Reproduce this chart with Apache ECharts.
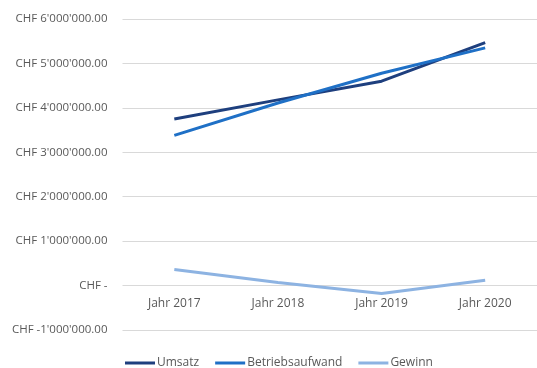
<!DOCTYPE html>
<html><head><meta charset="utf-8">
<script src="https://cdn.jsdelivr.net/npm/echarts@6/dist/echarts.min.js"></script>
<style>html,body{margin:0;padding:0;background:#fff}#c{width:537px;height:368px}</style>
</head><body><div id="c"></div>
<script>
var categories = ['Jahr 2017', 'Jahr 2018', 'Jahr 2019', 'Jahr 2020'];
var umsatz = [3750000, 4180000, 4600000, 5470000];
var betriebsaufwand = [3380000, 4110000, 4780000, 5350000];
var gewinn = [360000, 70000, -180000, 120000];
var yTicks = [-1000000, 0, 1000000, 2000000, 3000000, 4000000, 5000000, 6000000];

function fmt(v) {
  if (v === 0) return 'CHF -';
  var s = Math.abs(v).toFixed(0).replace(/\B(?=(\d{3})+(?!\d))/g, "'");
  return 'CHF ' + (v < 0 ? '-' : '') + s + '.00';
}
var chart = echarts.init(document.getElementById('c'));
var font = 'Open Sans';
var gridH = 311;
var unit = gridH / ((yTicks[yTicks.length - 1] - yTicks[0]) / 1000000);
chart.setOption({
  animation: false,
  legend: {
    top: 352, left: 120, itemWidth: 30, itemHeight: 3, itemGap: 16,
    icon: 'rect',
    textStyle: { color: '#595959', fontSize: 12, fontFamily: font, padding: [0, 0, 0, -3] },
    data: ['Umsatz', 'Betriebsaufwand', 'Gewinn']
  },
  grid: { left: 122.5, top: 19, width: 420, height: gridH, containLabel: false },
  xAxis: {
    type: 'category', data: categories, boundaryGap: true,
    position: 'bottom', offset: -unit,
    axisLine: { show: false },
    axisTick: { show: false },
    axisLabel: { color: '#595959', fontSize: 12, fontFamily: font, margin: 12 }
  },
  yAxis: {
    type: 'value', min: yTicks[0], max: yTicks[yTicks.length - 1], interval: 1000000,
    axisLine: { show: false }, axisTick: { show: false },
    splitLine: { lineStyle: { color: '#d9d9d9', width: 1 } },
    axisLabel: { color: '#595959', fontSize: 11.5, fontFamily: font, margin: 15, formatter: fmt }
  },
  series: [
    { name: 'Umsatz', type: 'line', data: umsatz, symbol: 'none', lineStyle: { width: 3, color: '#1e3f7e' }, itemStyle: { color: '#1e3f7e' }, z: 3 },
    { name: 'Betriebsaufwand', type: 'line', data: betriebsaufwand, symbol: 'none', lineStyle: { width: 3, color: '#1f70c6' }, itemStyle: { color: '#1f70c6' }, z: 4 },
    { name: 'Gewinn', type: 'line', data: gewinn, symbol: 'none', lineStyle: { width: 3, color: '#8db3e2' }, itemStyle: { color: '#8db3e2' }, z: 2 }
  ]
});
</script></body></html>
